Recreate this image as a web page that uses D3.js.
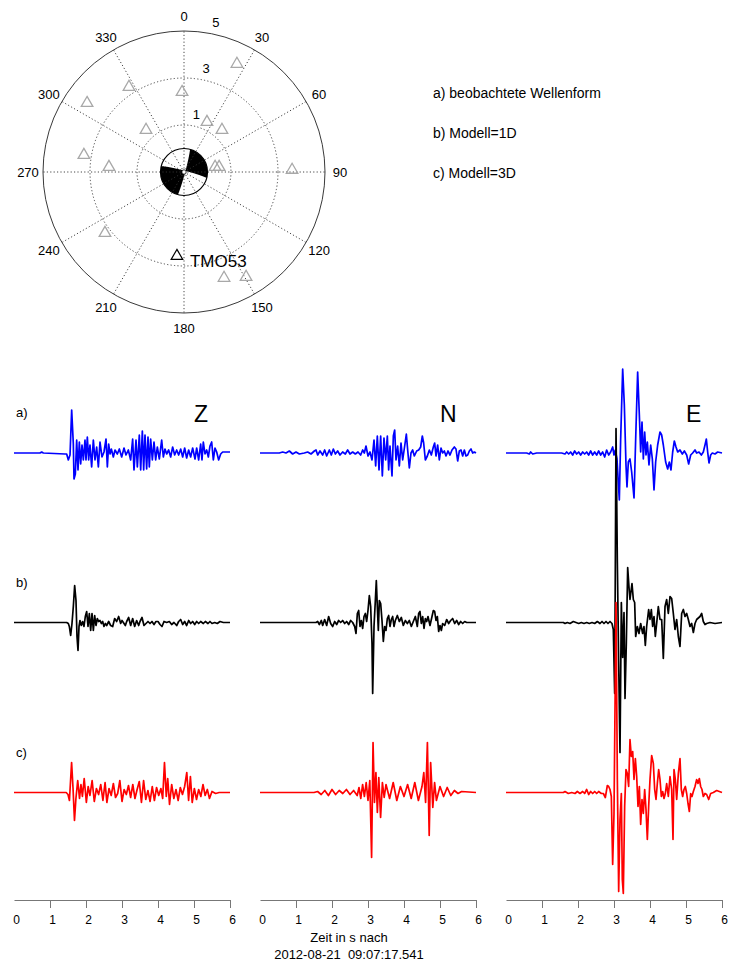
<!DOCTYPE html>
<html>
<head>
<meta charset="utf-8">
<script src="https://cdn.jsdelivr.net/npm/d3@7/dist/d3.min.js"></script>
<style>
  body { margin: 0; background: #fff; }
  svg { display: block; font-family: "Liberation Sans", Arial, Helvetica, sans-serif; }
</style>
</head>
<body>
<svg id="chart" width="731" height="961"></svg>
<script>
// ---- station map ----
const azimuthTicks = [0, 30, 60, 90, 120, 150, 180, 210, 240, 270, 300, 330];
const distanceRings = [1, 3, 5];
const stationAzimuth  = [26.1, 327.1, 358.6, 305.4, 24.7, 317.9, 42.1, 279.6, 273.8, 80.8, 81.9, 88.9, 232.3, 159.3, 149.4];
const stationDistance = [4.12, 3.31, 2.40, 4.06, 1.34, 1.41, 1.41, 3.32, 2.20, 0.34, 0.51, 3.60, 3.25, 3.82, 4.19];
const selectedStation = ["TMO53"];
const selectedAzimuth = [184.8];
const selectedDistance = [2.59];
// strike, dip, rake of the source
const focalMechanism = [15, 86, 5];

// ---- legend / labels ----
const legendLines = ["a) beobachtete Wellenform", "b) Modell=1D", "c) Modell=3D"];
const rowTags = ["a)", "b)", "c)"];
const components = ["Z", "N", "E"];
const timeTicks = [0, 1, 2, 3, 4, 5, 6];
const axisTitle = ["Zeit in s nach", "2012-08-21  09:07:17.541"];

// ---- waveforms: [time s, amplitude] ----
const obsZ = [[0,0],[0.722,0],[0.769,1],[0.815,0],[1.417,-1],[1.463,-1],[1.509,-7],[1.556,-2],[1.602,43],[1.648,9],[1.667,-26],[1.704,-21],[1.741,13],[1.778,-17],[1.815,11],[1.852,-11],[1.889,8],[1.926,-7],[1.972,13],[2.000,-7],[2.037,16],[2.074,-7],[2.111,8],[2.157,-14],[2.204,13],[2.250,-7],[2.296,6],[2.343,-14],[2.389,11],[2.444,-4],[2.500,1],[2.556,14],[2.593,-14],[2.630,9],[2.667,-1],[2.704,4],[2.759,-4],[2.806,3],[2.870,-1],[2.926,4],[2.991,-4],[3.056,5],[3.111,-2],[3.176,3],[3.241,-7],[3.296,14],[3.333,-17],[3.389,13],[3.426,-14],[3.481,18],[3.519,-17],[3.565,22],[3.602,-17],[3.639,18],[3.685,-16],[3.722,16],[3.759,-14],[3.796,14],[3.843,-7],[3.889,11],[3.935,-7],[3.981,6],[4.037,-6],[4.102,13],[4.148,-4],[4.194,4],[4.241,-1],[4.296,3],[4.352,-4],[4.407,6],[4.463,-2],[4.519,3],[4.574,-2],[4.630,4],[4.685,-4],[4.741,5],[4.796,-5],[4.852,3],[4.907,-4],[4.963,5],[5.028,-6],[5.074,5],[5.130,-7],[5.185,9],[5.222,-7],[5.259,11],[5.306,-1],[5.352,3],[5.398,-4],[5.444,7],[5.491,11],[5.537,-7],[5.583,5],[5.630,1],[5.685,-7],[5.741,-1],[5.796,1],[5.861,1],[6.000,1]];
const obsN = [[0,0],[0.537,0],[0.630,1],[0.722,0],[0.815,2],[0.907,-1],[1.000,1],[1.093,-1],[1.231,0],[1.324,1],[1.417,-1],[1.509,2],[1.556,3],[1.602,-2],[1.667,2],[1.741,-2],[1.796,3],[1.852,-3],[1.926,3],[1.981,-2],[2.037,4],[2.093,-1],[2.157,2],[2.222,-2],[2.296,1],[2.370,-1],[2.435,3],[2.500,-1],[2.574,1],[2.648,-1],[2.722,1],[2.796,-2],[2.852,3],[2.898,0],[2.944,7],[3.000,-3],[3.056,1],[3.111,-7],[3.167,13],[3.213,-13],[3.259,17],[3.306,-17],[3.352,17],[3.398,-23],[3.444,15],[3.491,-7],[3.537,17],[3.574,-17],[3.611,7],[3.667,-23],[3.704,17],[3.741,23],[3.778,-7],[3.824,7],[3.870,-13],[3.917,10],[3.963,-7],[4.019,7],[4.065,19],[4.102,3],[4.148,-15],[4.194,0],[4.241,3],[4.287,-3],[4.352,2],[4.407,3],[4.463,6],[4.509,17],[4.546,10],[4.593,-7],[4.648,-3],[4.704,3],[4.759,-2],[4.815,6],[4.852,10],[4.889,-3],[4.935,8],[4.981,-7],[5.028,5],[5.074,0],[5.120,2],[5.167,-3],[5.222,2],[5.278,-2],[5.333,3],[5.398,6],[5.444,4],[5.491,-8],[5.537,2],[5.583,3],[5.630,-3],[5.676,3],[5.722,-3],[5.769,-2],[5.815,2],[5.861,4],[5.907,0],[5.954,1],[6.000,0]];
const obsE = [[0,0],[0.574,0],[0.648,-1],[0.685,1],[0.741,-1],[0.852,0],[1.037,0],[1.222,0],[1.407,0],[1.546,0],[1.639,-1],[1.685,1],[1.741,-1],[1.796,1],[1.852,-2],[1.907,2],[1.963,-1],[2.019,1],[2.074,-2],[2.130,1],[2.185,-1],[2.241,1],[2.296,-2],[2.352,2],[2.407,-2],[2.463,1],[2.519,-2],[2.574,2],[2.630,-2],[2.685,1],[2.741,-4],[2.796,3],[2.852,-2],[2.907,1],[2.963,6],[3.000,-2],[3.037,3],[3.083,-6],[3.148,-47],[3.185,14],[3.241,84],[3.287,48],[3.333,-12],[3.361,-34],[3.398,-9],[3.444,-6],[3.491,-19],[3.556,-45],[3.602,14],[3.657,81],[3.704,38],[3.741,1],[3.778,31],[3.815,-6],[3.852,21],[3.889,-2],[3.926,11],[3.972,-12],[4.019,8],[4.065,-6],[4.111,-37],[4.157,-9],[4.213,8],[4.278,21],[4.324,18],[4.370,8],[4.435,-9],[4.491,-16],[4.537,-9],[4.583,-17],[4.630,1],[4.676,12],[4.722,6],[4.769,1],[4.833,3],[4.898,-1],[4.954,2],[5.019,-2],[5.074,-11],[5.130,-2],[5.185,0],[5.250,3],[5.296,0],[5.361,1],[5.426,-2],[5.481,1],[5.528,8],[5.565,14],[5.602,1],[5.639,-10],[5.685,-2],[5.731,0],[5.806,-1],[5.880,1],[6.000,0]];

const m1dZ = [[0,0],[1.463,0],[1.509,-1],[1.537,-4],[1.574,-13],[1.611,-1],[1.648,16],[1.685,37],[1.722,22],[1.750,-14],[1.778,-28],[1.806,-4],[1.833,2],[1.870,-3],[1.907,1],[1.944,-4],[1.981,6],[2.019,11],[2.056,-4],[2.093,9],[2.130,-8],[2.167,9],[2.204,-8],[2.241,7],[2.278,-3],[2.315,4],[2.352,1],[2.389,2],[2.426,-1],[2.463,1],[2.500,-4],[2.537,-1],[2.574,-3],[2.630,1],[2.685,-3],[2.741,-4],[2.796,4],[2.852,1],[2.907,6],[2.963,-1],[3.000,2],[3.056,-1],[3.093,-3],[3.130,1],[3.185,5],[3.241,-3],[3.296,4],[3.352,-4],[3.407,2],[3.463,-3],[3.500,1],[3.556,5],[3.611,-3],[3.667,-1],[3.722,1],[3.778,-1],[3.833,1],[3.889,-2],[3.944,1],[4.000,1],[4.056,-2],[4.111,-4],[4.167,1],[4.241,0],[4.315,1],[4.380,-2],[4.444,0],[4.519,-3],[4.574,1],[4.630,3],[4.685,-2],[4.741,1],[4.796,-3],[4.852,2],[4.907,-1],[4.963,1],[5.019,-2],[5.074,1],[5.130,-1],[5.185,1],[5.259,-1],[5.315,1],[5.389,-1],[5.444,1],[5.500,-1],[5.574,0],[5.648,-1],[5.722,1],[5.815,0],[5.907,0],[6.000,0]];
const m1dN = [[0,0],[1.556,0],[1.602,1],[1.648,-2],[1.704,2],[1.741,-3],[1.796,3],[1.852,-3],[1.907,6],[1.963,-1],[2.019,-4],[2.074,1],[2.130,-2],[2.185,2],[2.241,0],[2.296,2],[2.352,-1],[2.407,1],[2.463,-2],[2.519,2],[2.574,0],[2.630,-4],[2.667,-11],[2.704,9],[2.741,12],[2.778,-4],[2.815,2],[2.852,-6],[2.889,6],[2.926,9],[2.963,1],[3.000,12],[3.037,27],[3.074,16],[3.111,-21],[3.130,-71],[3.167,-4],[3.204,22],[3.231,42],[3.259,16],[3.287,-8],[3.315,22],[3.352,19],[3.389,2],[3.426,-19],[3.463,-4],[3.500,-8],[3.537,4],[3.574,7],[3.611,-4],[3.648,3],[3.685,6],[3.722,-4],[3.759,2],[3.815,7],[3.870,1],[3.926,5],[3.981,-3],[4.037,2],[4.093,-1],[4.148,2],[4.204,-4],[4.259,1],[4.315,6],[4.370,-4],[4.407,9],[4.444,11],[4.481,-1],[4.519,6],[4.556,-6],[4.593,4],[4.630,1],[4.667,6],[4.722,-3],[4.778,6],[4.815,12],[4.852,11],[4.889,2],[4.926,6],[4.963,-9],[5.000,-3],[5.037,-8],[5.074,-1],[5.130,-3],[5.185,3],[5.241,-1],[5.296,2],[5.352,4],[5.407,-1],[5.463,2],[5.519,-2],[5.574,1],[5.630,-1],[5.685,1],[5.741,0],[5.815,0],[5.907,0],[6.000,0]];
const m1dE = [[0,0],[1.593,0],[1.639,-1],[1.704,0],[1.778,-1],[1.870,1],[1.944,0],[2.019,-1],[2.093,0],[2.167,-1],[2.241,0],[2.315,-1],[2.389,0],[2.463,-1],[2.537,1],[2.611,-1],[2.667,1],[2.722,-1],[2.778,1],[2.833,-1],[2.889,1],[2.944,-1],[2.981,-7],[3.019,-71],[3.056,194],[3.093,60],[3.130,-40],[3.167,-130],[3.204,20],[3.241,-35],[3.278,10],[3.306,-76],[3.343,-20],[3.380,55],[3.417,35],[3.444,23],[3.500,39],[3.537,23],[3.574,20],[3.602,-14],[3.648,-4],[3.694,-11],[3.741,-1],[3.796,-11],[3.833,-4],[3.870,-23],[3.907,-4],[3.963,13],[4.000,3],[4.037,13],[4.074,-4],[4.111,6],[4.148,-14],[4.185,-1],[4.231,16],[4.278,3],[4.324,3],[4.370,-36],[4.417,16],[4.463,23],[4.509,9],[4.556,26],[4.602,24],[4.648,9],[4.694,-7],[4.741,3],[4.787,-14],[4.833,-24],[4.880,9],[4.926,13],[4.972,6],[5.019,9],[5.065,3],[5.111,-4],[5.157,-1],[5.204,-10],[5.250,-1],[5.296,3],[5.389,6],[5.435,9],[5.481,1],[5.528,-2],[5.574,-1],[5.667,0],[5.806,-1],[6.000,0]];

const m3dZ = [[0,0],[1.45,0],[1.5,-2],[1.54,-8],[1.6,30],[1.64,4],[1.68,-28],[1.72,-6],[1.77,12],[1.82,-6],[1.86,8],[1.9,-4],[1.95,14],[2.01,-10],[2.06,6],[2.11,-3],[2.17,12],[2.23,-9],[2.29,4],[2.35,-2],[2.41,8],[2.47,-8],[2.53,10],[2.58,-10],[2.64,4],[2.7,-3],[2.76,9],[2.82,-5],[2.88,-1],[2.94,12],[3.0,-9],[3.06,3],[3.12,-2],[3.18,7],[3.24,-5],[3.3,8],[3.36,-6],[3.42,3],[3.48,11],[3.54,-10],[3.6,12],[3.66,-7],[3.72,2],[3.78,-9],[3.84,6],[3.9,-8],[3.96,5],[4.02,-3],[4.08,4],[4.13,-6],[4.18,30],[4.23,-4],[4.27,14],[4.32,-12],[4.38,8],[4.44,-6],[4.5,3],[4.56,-8],[4.62,5],[4.68,-2],[4.74,6],[4.8,20],[4.85,-8],[4.9,16],[4.95,-10],[5.01,4],[5.07,-7],[5.13,3],[5.19,-4],[5.25,8],[5.31,-3],[5.37,3],[5.43,-6],[5.5,1],[5.6,-1],[5.7,0],[6,0]];
const m3dN = [[0,0],[1.5,0],[1.6,1],[1.7,-2],[1.8,2],[1.9,-3],[2.0,3],[2.1,-2],[2.2,2],[2.3,-1],[2.4,3],[2.5,-2],[2.6,2],[2.7,-3],[2.75,5],[2.8,-6],[2.85,8],[2.9,-4],[2.95,10],[3.0,-8],[3.05,12],[3.1,-65],[3.14,50],[3.18,-10],[3.22,20],[3.26,-20],[3.3,15],[3.35,-25],[3.4,10],[3.45,-5],[3.5,8],[3.6,-6],[3.7,10],[3.8,-8],[3.9,6],[4.0,-4],[4.1,8],[4.2,-6],[4.3,10],[4.4,-8],[4.5,6],[4.55,20],[4.6,-10],[4.65,50],[4.7,-43],[4.74,30],[4.8,-15],[4.85,10],[4.9,-8],[5.0,6],[5.1,-4],[5.2,5],[5.3,-3],[5.4,2],[5.5,-1],[5.6,1],[6,0]];
const m3dE = [[0,0],[1.593,0],[1.639,1],[1.731,-1],[1.824,0],[1.917,-1],[1.981,1],[2.056,-1],[2.130,1],[2.185,-1],[2.241,3],[2.296,-2],[2.352,1],[2.407,-1],[2.463,1],[2.519,-1],[2.574,1],[2.648,-1],[2.704,-1],[2.759,-5],[2.815,7],[2.852,6],[2.889,3],[2.926,-4],[2.963,-72],[3.000,-21],[3.056,190],[3.093,13],[3.130,-99],[3.167,-27],[3.204,-1],[3.231,-87],[3.259,-101],[3.296,-14],[3.333,23],[3.370,19],[3.407,6],[3.444,53],[3.481,36],[3.519,41],[3.556,13],[3.593,34],[3.630,16],[3.667,-14],[3.704,6],[3.741,-32],[3.778,-7],[3.815,-21],[3.852,3],[3.889,-17],[3.926,-47],[3.963,-14],[4.000,13],[4.046,37],[4.093,29],[4.130,3],[4.167,-7],[4.204,9],[4.241,23],[4.278,13],[4.315,-4],[4.352,1],[4.389,-6],[4.426,-1],[4.463,9],[4.509,-4],[4.556,16],[4.602,3],[4.639,-47],[4.667,23],[4.704,13],[4.741,-7],[4.787,19],[4.833,34],[4.870,3],[4.907,-4],[4.944,3],[4.981,6],[5.019,-1],[5.056,-11],[5.093,-19],[5.130,-1],[5.167,-4],[5.204,1],[5.250,6],[5.296,13],[5.333,9],[5.370,14],[5.407,6],[5.444,3],[5.481,-4],[5.528,-1],[5.574,-2],[5.630,-7],[5.685,-1],[5.759,0],[5.852,2],[6.000,0]];

const traceRows = [[obsZ, obsN, obsE], [m1dZ, m1dN, m1dE], [m3dZ, m3dN, m3dE]];
const rowColors = ["#0000ff", "#000000", "#ff0000"];

// ================= drawing =================
const svg = d3.select("#chart");
const rad = Math.PI / 180;

// ---- polar station map ----
const cx = 184, cy = 172;
const rScale = d3.scaleLinear().domain([-1, 5]).range([0, 141]);
const polar = (az, d) => [cx + rScale(d) * Math.sin(az * rad), cy - rScale(d) * Math.cos(az * rad)];
const ballR = rScale(0);

const map = svg.append("g");

// beach ball (lower hemisphere, equal area) from strike/dip/rake
const [strike, dip, rake] = focalMechanism.map(v => v * rad);
const nrm = [-Math.sin(dip) * Math.sin(strike), Math.sin(dip) * Math.cos(strike), -Math.cos(dip)];
const slip = [
  Math.cos(rake) * Math.cos(strike) + Math.cos(dip) * Math.sin(rake) * Math.sin(strike),
  Math.cos(rake) * Math.sin(strike) - Math.cos(dip) * Math.sin(rake) * Math.cos(strike),
  -Math.sin(rake) * Math.sin(dip)
];
const G = 120;
const grid = new Array(G * G);
for (let j = 0; j < G; j++) {
  for (let i = 0; i < G; i++) {
    const px = -1 + 2 * (i + 0.5) / G, py = -1 + 2 * (j + 0.5) / G;
    const r = Math.min(1, Math.hypot(px, py));
    const inc = 2 * Math.asin(r / Math.SQRT2);
    const az = Math.atan2(px, -py);
    const v = [Math.sin(inc) * Math.cos(az), Math.sin(inc) * Math.sin(az), Math.cos(inc)];
    grid[j * G + i] = (v[0]*nrm[0] + v[1]*nrm[1] + v[2]*nrm[2]) * (v[0]*slip[0] + v[1]*slip[1] + v[2]*slip[2]);
  }
}
const polys = d3.contours().size([G, G]).thresholds([0])(grid);
const ballPath = d3.geoPath(d3.geoIdentity().scale(2 * ballR / G).translate([cx - ballR, cy - ballR]));
svg.append("defs").append("clipPath").attr("id", "ballClip")
  .append("circle").attr("cx", cx).attr("cy", cy).attr("r", ballR);
map.append("circle").attr("cx", cx).attr("cy", cy).attr("r", ballR).attr("fill", "#fff");
map.append("g").attr("clip-path", "url(#ballClip)")
  .selectAll("path").data(polys).join("path")
  .attr("d", ballPath).attr("fill", "#000");

// dotted grid
const dotStyle = sel => sel.attr("stroke", "#333").attr("stroke-width", 0.9)
  .attr("stroke-dasharray", "1.2,2.2").attr("fill", "none");
map.selectAll("line.spoke").data(azimuthTicks).join("line")
  .attr("class", "spoke")
  .attr("x1", cx).attr("y1", cy)
  .attr("x2", d => polar(d, 5)[0]).attr("y2", d => polar(d, 5)[1])
  .call(dotStyle);
map.selectAll("circle.ring").data(distanceRings.slice(0, -1)).join("circle")
  .attr("class", "ring").attr("cx", cx).attr("cy", cy).attr("r", d => rScale(d))
  .call(dotStyle);
map.append("circle").attr("cx", cx).attr("cy", cy).attr("r", rScale(5))
  .attr("fill", "none").attr("stroke", "#222").attr("stroke-width", 0.9);

map.append("circle").attr("cx", cx).attr("cy", cy).attr("r", ballR)
  .attr("fill", "none").attr("stroke", "#000").attr("stroke-width", 1.2);
map.append("circle").attr("cx", cx).attr("cy", cy).attr("r", 2.2)
  .attr("fill", "#fff").attr("stroke", "#000").attr("stroke-width", 0.8);

// ring labels
map.selectAll("text.rlab").data(distanceRings).join("text")
  .attr("class", "rlab")
  .attr("x", d => cx + (rScale(d) + 12) * Math.sin(12 * rad))
  .attr("y", d => cy - (rScale(d) + 12) * Math.cos(12 * rad) + 5)
  .attr("text-anchor", "middle").attr("font-size", 13).text(d => d);

// azimuth labels
map.selectAll("text.alab").data(azimuthTicks).join("text")
  .attr("class", "alab")
  .attr("x", d => cx + 156 * Math.sin(d * rad))
  .attr("y", d => cy - 156 * Math.cos(d * rad) + 5)
  .attr("text-anchor", "middle").attr("font-size", 13).text(d => d);

// stations
const tri = d3.symbol(d3.symbolTriangle, 58);
map.selectAll("path.sta").data(stationAzimuth).join("path")
  .attr("class", "sta")
  .attr("transform", (d, i) => `translate(${polar(d, stationDistance[i])})`)
  .attr("d", tri).attr("fill", "none").attr("stroke", "#a8a8a8").attr("stroke-width", 1.3);
selectedStation.forEach((name, i) => {
  const p = polar(selectedAzimuth[i], selectedDistance[i]);
  map.append("path").attr("transform", `translate(${p})`).attr("d", tri)
    .attr("fill", "none").attr("stroke", "#000").attr("stroke-width", 1.2);
  map.append("text").attr("x", p[0] + 13).attr("y", p[1] + 11)
    .attr("font-size", 17).text(name);
});

// legend
svg.selectAll("text.leg").data(legendLines).join("text")
  .attr("class", "leg").attr("x", 433).attr("y", (d, i) => 98 + 40 * i)
  .attr("font-size", 14).text(d => d);

// ---- waveform panels ----
const colX = [14, 260, 506], panelW = 216;
const rowBase = [453, 622.5, 792.5];
const axisY = 900;

components.forEach((comp, c) => {
  const x = d3.scaleLinear().domain([0, 6]).range([colX[c], colX[c] + panelW]);
  traceRows.forEach((row, r) => {
    const y = d3.scaleLinear().domain([-100, 100]).range([rowBase[r] + 100, rowBase[r] - 100]);
    const line = d3.line().x(d => x(d[0])).y(d => y(d[1]));
    svg.append("path").datum(row[c]).attr("d", line)
      .attr("fill", "none").attr("stroke", rowColors[r]).attr("stroke-width", 1.7)
      .attr("stroke-linejoin", "round");
  });
  svg.append("text").attr("x", colX[c] + 180).attr("y", 422)
    .attr("font-size", 23).text(comp);

  const ax = svg.append("g").attr("transform", `translate(0,${axisY})`)
    .call(d3.axisBottom(x).tickValues(timeTicks).tickSize(8).tickSizeOuter(0).tickPadding(7).tickFormat(d3.format("d")));
  ax.select(".domain").attr("stroke", "#777");
  ax.selectAll(".tick line").attr("stroke", "#777").filter(d => d === 0).remove();
  ax.selectAll(".tick text").attr("font-size", 12).attr("fill", "#000")
    .attr("font-family", "'Liberation Sans', Arial, sans-serif").attr("dx", 2);
});

// row tags
svg.selectAll("text.row").data(rowTags).join("text")
  .attr("class", "row").attr("x", 16).attr("y", (d, i) => rowBase[i] - 36)
  .attr("font-size", 13).text(d => d);

// time axis caption
svg.selectAll("text.cap").data(axisTitle).join("text")
  .attr("class", "cap").attr("x", 349).attr("y", (d, i) => 942 + 17 * i)
  .attr("text-anchor", "middle").attr("font-size", 13)
  .style("white-space", "pre").text(d => d);
</script>
</body>
</html>
